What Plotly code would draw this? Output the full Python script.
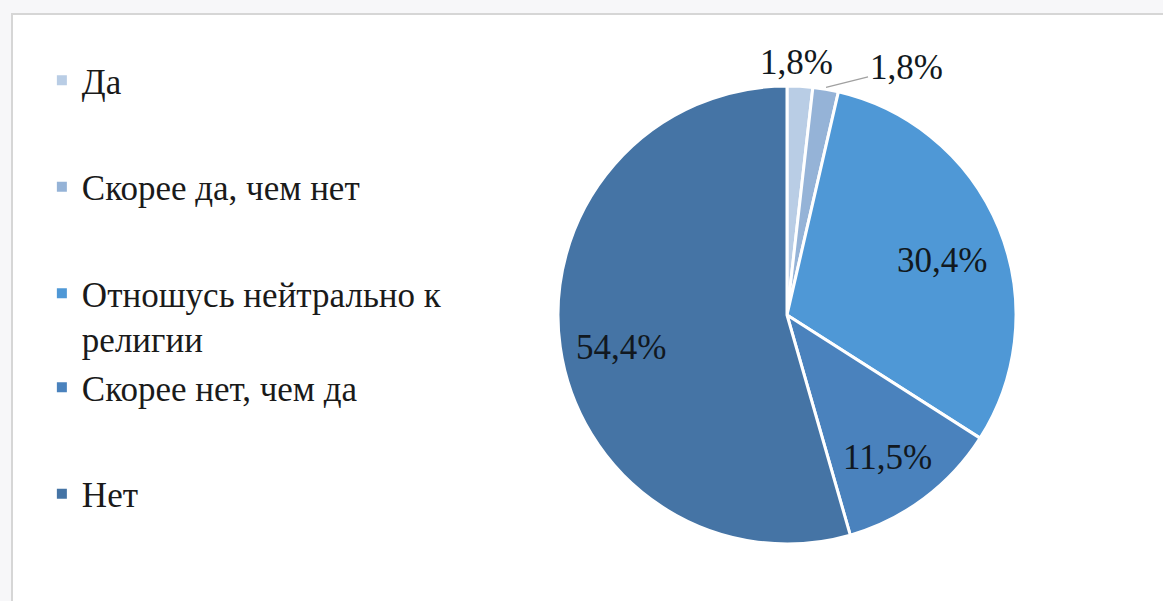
import math
import plotly.graph_objects as go

categories = ["Да", "Скорее да, чем нет", "Отношусь нейтрально к религии",
              "Скорее нет, чем да", "Нет"]
legend_labels = ["Да", "Скорее да, чем нет", "Отношусь нейтрально к<br>религии",
                 "Скорее нет, чем да", "Нет"]
values = [1.8, 1.8, 30.4, 11.5, 54.4]
colors = ["#b9cde5", "#95b3d7", "#4f98d6", "#4a82bd", "#4574a5"]
legend_groups = ["g1", "g2", "g3", "g3", "g4"]

pct_text = [f"{v:.1f}".replace(".", ",") + "%" for v in values]

FONT = "Liberation Serif"
W, H = 1163, 601
# pie geometry (pixels)
CX, CY, R = 787, 315, 229

fig = go.Figure()
fig.add_trace(go.Pie(
    labels=categories,
    values=values,
    text=pct_text,
    textinfo="none",
    sort=False,
    direction="clockwise",
    rotation=0,
    marker=dict(colors=colors, line=dict(color="white", width=3)),
    showlegend=False,
    hoverinfo="label+text",
    domain=dict(x=[(CX - R) / W, (CX + R) / W],
                y=[1 - (CY + R) / H, 1 - (CY - R) / H]),
))

# legend entries (one per category) using invisible points
for lab, col, grp in zip(legend_labels, colors, legend_groups):
    fig.add_trace(go.Scatter(
        x=[None], y=[None], mode="markers", name=lab, legendgroup=grp,
        marker=dict(symbol="square", size=10, color=col),
        showlegend=True, hoverinfo="skip",
    ))

# data labels, placed from slice angles
total = sum(values)
annotations = []
cum = 0.0
lab_font = dict(family=FONT, size=35, color="#111820")
for i, (v, t) in enumerate(zip(values, pct_text)):
    mid = (cum + v / 2) / total * 2 * math.pi
    cum += v
    if v < 5:
        if i == 0:
            r = R + 24
            px = CX + r * math.sin(mid) - 5
            py = CY - r * math.cos(mid)
            annotations.append(dict(
                x=px / W, y=1 - py / H, xref="paper", yref="paper",
                xanchor="center", yanchor="middle",
                text=t, showarrow=False, font=lab_font))
        else:
            r = R + 2
            px = CX + r * math.sin(mid)
            py = CY - r * math.cos(mid)
            annotations.append(dict(
                x=px / W, y=1 - py / H, xref="paper", yref="paper",
                xanchor="center", yanchor="middle",
                text=t, showarrow=True, arrowhead=0, arrowwidth=1.2,
                arrowcolor="#a0a0a0", ax=80, ay=-20, standoff=0,
                font=lab_font))
    else:
        r = 0.73 * R
        px = CX + r * math.sin(mid)
        py = CY - r * math.cos(mid)
        annotations.append(dict(
            x=px / W, y=1 - py / H, xref="paper", yref="paper",
            xanchor="center", yanchor="middle", yshift=-9,
            text=t, showarrow=False, font=lab_font))

fig.update_layout(
    width=W, height=H,
    margin=dict(l=0, r=0, t=0, b=0),
    paper_bgcolor="#f7f7f9",
    plot_bgcolor="rgba(0,0,0,0)",
    xaxis=dict(visible=False),
    yaxis=dict(visible=False),
    legend=dict(
        x=0.036, y=0.915, xanchor="left", yanchor="top",
        font=dict(family=FONT, size=35, color="#1a1a1a"),
        tracegroupgap=58, valign="top", bgcolor="rgba(0,0,0,0)",
        itemclick=False, itemdoubleclick=False,
    ),
    annotations=annotations,
    shapes=[dict(
        type="rect", xref="paper", yref="paper",
        x0=12 / W, x1=1.02, y0=-0.02, y1=1 - 14 / H,
        line=dict(color="#d6d6d6", width=2), fillcolor="white", layer="below",
    )],
)

fig.write_html("out.html", config={"displayModeBar": False},
               post_script="document.body.style.margin='0';document.body.style.overflow='hidden';")
